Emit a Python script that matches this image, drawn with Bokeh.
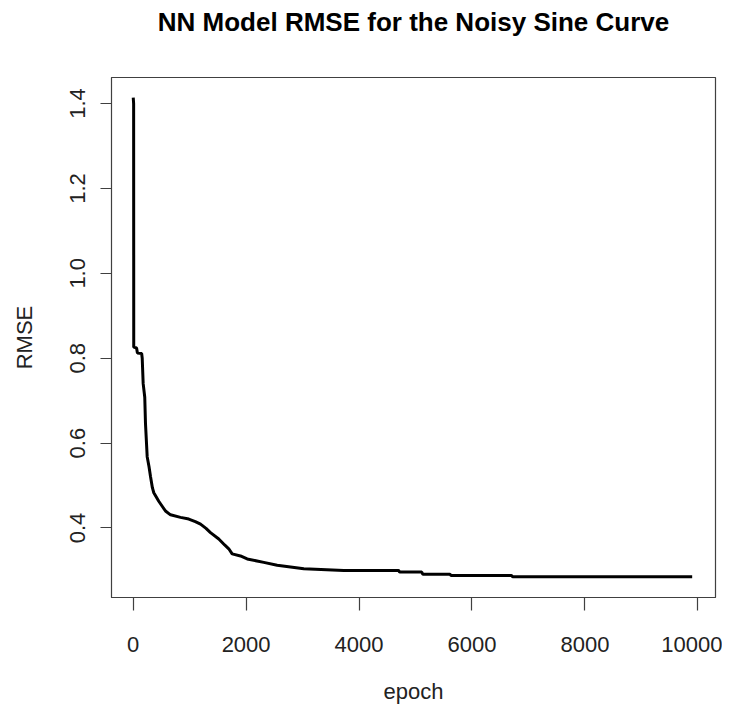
from bokeh.plotting import figure
from bokeh.models import FixedTicker, PrintfTickFormatter, Range1d, Title
from bokeh.embed import file_html
from bokeh.resources import INLINE

# Data
epoch = [1, 8, 10, 60, 75, 150, 160, 177, 205, 218, 248, 280, 306, 340, 365, 453,
         520, 572, 661, 838, 985, 1100, 1193, 1290, 1369, 1516, 1620, 1693, 1753,
         1900, 2019, 2313, 2550, 3022, 3730, 4700, 4720, 5110, 5130, 5610, 5630,
         6700, 6720, 9900]
rmse = [1.414, 1.400, 0.826, 0.824, 0.812, 0.811, 0.800, 0.740, 0.708, 0.646, 0.568,
        0.545, 0.522, 0.495, 0.483, 0.463, 0.450, 0.440, 0.431, 0.425, 0.421, 0.415,
        0.409, 0.399, 0.389, 0.374, 0.360, 0.351, 0.339, 0.334, 0.327, 0.319, 0.312,
        0.304, 0.300, 0.300, 0.296, 0.296, 0.291, 0.291, 0.288, 0.288, 0.285, 0.285]

x_ticks = [0, 2000, 4000, 6000, 8000, 10000]
y_ticks = [0.4, 0.6, 0.8, 1.0, 1.2, 1.4]

title_text = "NN Model RMSE for the Noisy Sine Curve"
FONT = "Liberation Sans"

p = figure(width=722, height=706, output_backend="svg", toolbar_location=None,
           x_range=Range1d(-384, 10313), y_range=Range1d(0.2362, 1.4614),
           min_border_left=111, min_border_right=7, min_border_top=74,
           min_border_bottom=107)

p.title = Title(text=title_text, align="center", vertical_align="top",
                text_font=FONT, text_font_size="26px", text_font_style="bold",
                text_color="black", standoff=12)
# empty spacer between the title and the plot frame
p.add_layout(Title(text=" ", text_font_size="1px", standoff=30), "above")

p.line(epoch, rmse, line_color="black", line_width=3)

p.xgrid.visible = False
p.ygrid.visible = False
p.background_fill_color = "white"
p.border_fill_color = "white"
p.outline_line_color = "#404040"
p.outline_line_width = 1.2

for ax in (p.xaxis[0], p.yaxis[0]):
    ax.axis_line_color = "#404040"
    ax.major_tick_line_color = "#404040"
    ax.major_tick_line_width = 1.2
    ax.minor_tick_line_color = None
    ax.major_tick_in = 0
    ax.major_label_text_font = FONT
    ax.major_label_text_font_size = "22px"
    ax.major_label_text_color = "#222222"
    ax.axis_label_text_font = FONT
    ax.axis_label_text_font_size = "22px"
    ax.axis_label_text_font_style = "normal"
    ax.axis_label_text_color = "#222222"

p.xaxis.ticker = FixedTicker(ticks=x_ticks)
p.xaxis.formatter = PrintfTickFormatter(format="%d")
p.xaxis.major_tick_out = 13
p.xaxis.major_label_standoff = 26
p.xaxis.axis_label = "epoch"
p.xaxis.axis_label_standoff = 24

p.yaxis.ticker = FixedTicker(ticks=y_ticks)
p.yaxis.formatter = PrintfTickFormatter(format="%.1f")
p.yaxis.major_tick_out = 11
p.yaxis.major_label_orientation = "vertical"
p.yaxis.major_label_standoff = 15
p.yaxis.axis_label = "RMSE"
p.yaxis.axis_label_standoff = 31

open("out.html", "w").write(file_html(p, INLINE))
